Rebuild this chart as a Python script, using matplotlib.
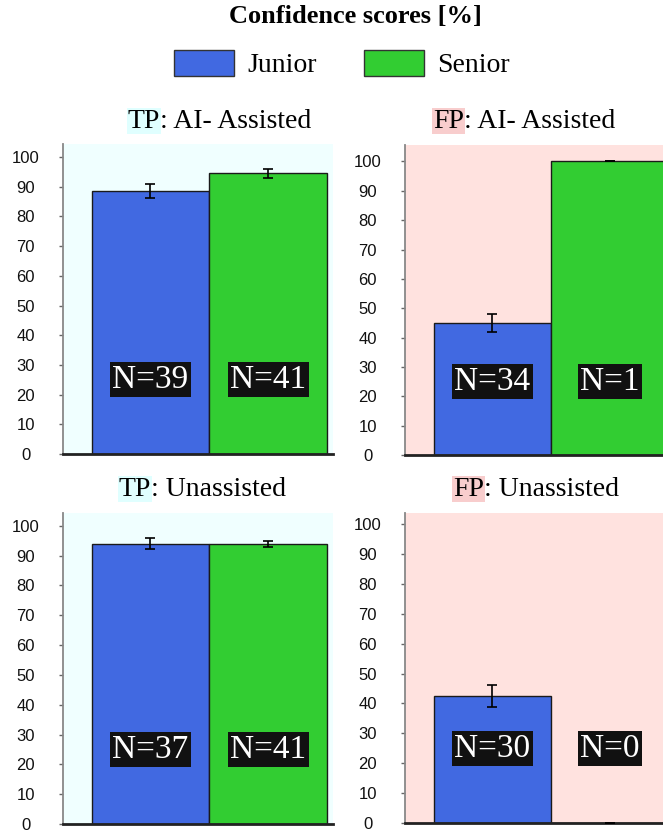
import matplotlib
matplotlib.use("Agg")
import matplotlib.pyplot as plt
from matplotlib.patches import Patch

# data
groups = ["Junior", "Senior"]
panel_titles = [("TP", ": AI- Assisted"), ("FP", ": AI- Assisted"),
                ("TP", ": Unassisted"), ("FP", ": Unassisted")]
means = [[88.5, 94.5], [45.0, 100.0], [94.0, 94.0], [42.5, 0.0]]
errors = [[2.4, 1.5], [3.0, 0.0], [1.9, 1.0], [3.6, 0.0]]
counts = [[39, 41], [34, 1], [37, 41], [30, 0]]

W, H = 663, 830
bar_colors = ["#4169E1", "#32CD32"]
bg = {"TP": "#F0FFFF", "FP": "#FFE2DF"}
hl = {"TP": "#E0FFFF", "FP": "#F8CDCD"}
serif = ["Liberation Serif", "DejaVu Serif"]
sans = ["Liberation Sans", "DejaVu Sans"]

fig = plt.figure(figsize=(W / 100, H / 100), dpi=100)

# axes boxes in pixels: left, top, bottom(y=0)
boxes = [(63, 144, 454), (405, 145, 455), (63, 513, 824), (405, 513, 823)]
ytops = [104.4, 105.6, 104.3, 103.7]
title_pos = [(160, 121), (464, 121), (151, 489), (484, 489)]

for i in range(4):
    l, t, b = boxes[i]
    ax = fig.add_axes([l / W, (H - b) / H, 270 / W, (b - t) / H])
    kind = panel_titles[i][0]
    ax.set_facecolor(bg[kind])
    x = list(range(len(groups)))
    ax.bar(x, means[i], width=1.0, color=bar_colors, edgecolor="#1a1a1a",
           linewidth=1.0, zorder=2)
    ax.errorbar(x, means[i], yerr=errors[i], fmt="none", ecolor="black",
                elinewidth=1.2, capsize=3.8, capthick=1.2, zorder=3)
    for j in x:
        ax.text(j, 25, "N=%d" % counts[i][j], ha="center", va="center",
                color="white", fontsize=24, family=serif, zorder=4,
                bbox=dict(boxstyle="square,pad=0.07", fc="#111111", ec="none"))
    ax.set_xlim(-0.742, 1.55)
    ax.set_ylim(0, ytops[i])
    ax.set_xticks([])
    ax.set_yticks(range(0, 101, 10))
    ax.tick_params(axis="y", length=3, width=1, color="#666666",
                   labelsize=12, pad=24, labelcolor="#111111")
    for lab in ax.get_yticklabels():
        lab.set_horizontalalignment("center")
        lab.set_family(sans)
    ax.spines["top"].set_visible(False)
    ax.spines["right"].set_visible(False)
    ax.spines["left"].set_color("#888888")
    ax.spines["left"].set_linewidth(1.3)
    ax.spines["bottom"].set_color("#222222")
    ax.spines["bottom"].set_linewidth(2)

    # panel title with highlighted prefix
    tx, ty = title_pos[i]
    fig.text(tx / W, 1 - ty / H, kind, ha="right", va="center", fontsize=20,
             family=serif, bbox=dict(boxstyle="square,pad=0.03", fc=hl[kind], ec="none"))
    fig.text(tx / W, 1 - ty / H, panel_titles[i][1], ha="left", va="center",
             fontsize=20, family=serif)

fig.text(355 / W, 1 - 17 / H, "Confidence scores [%]", ha="center", va="center",
         fontsize=19, fontweight="bold", family=serif)

handles = [Patch(facecolor=c, edgecolor="#333333", linewidth=1) for c in bar_colors]
fig.legend(handles, groups, loc="center", bbox_to_anchor=(342 / W, 1 - 64 / H),
           ncol=2, frameon=False, prop={"family": serif, "size": 20},
           handlelength=2.16, handleheight=1.08, handletextpad=0.47,
           columnspacing=1.69, borderpad=0, borderaxespad=0)

fig.savefig("out.png", dpi=100)
